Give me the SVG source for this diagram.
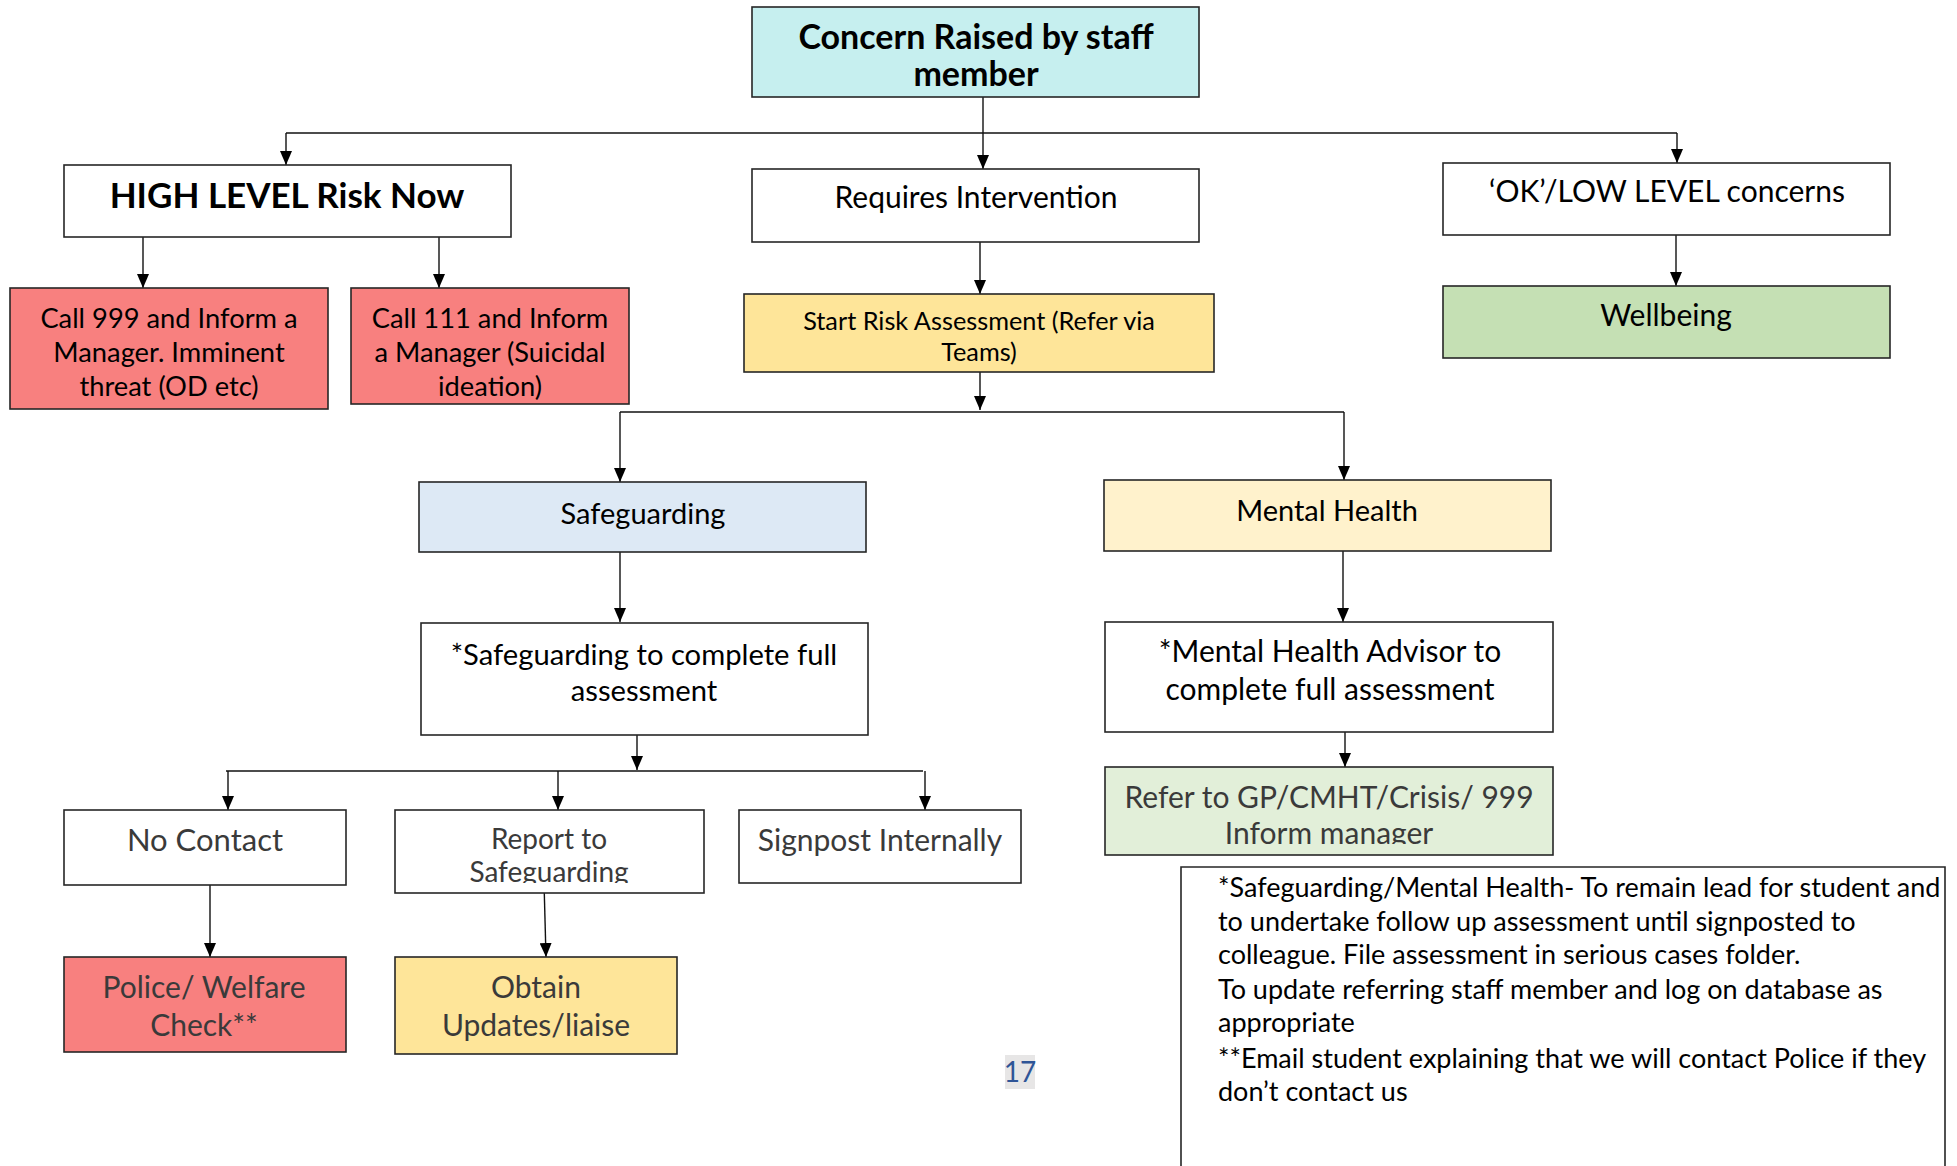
<svg xmlns="http://www.w3.org/2000/svg" width="1957" height="1166" viewBox="0 0 1957 1166">
<style>
.box{stroke:#262626;stroke-width:1.6}
.t{font-family:Lato,"Liberation Sans",sans-serif;font-size:30px;fill:#000;text-anchor:middle}
.b{font-weight:bold;font-size:34px}
.g{fill:#3a3a3a}
.s{font-size:25.3px}
.m{font-size:27.3px}
.note{font-family:Lato,"Liberation Sans",sans-serif;font-size:27px;fill:#000}
.c{fill:none;stroke:#111;stroke-width:1.4}
</style>
<defs>
<marker id="ah" markerUnits="userSpaceOnUse" markerWidth="14" markerHeight="12" refX="14" refY="6" orient="auto">
<path d="M0,0 L14,6 L0,12 z" fill="#000"/>
</marker>
<clipPath id="clipReport"><rect x="395" y="810" width="309" height="73"/></clipPath>
<clipPath id="clipRefer"><rect x="1105" y="767" width="448" height="77"/></clipPath>
</defs>
<rect width="1957" height="1166" fill="#fff"/>

<g id="connectors">
<path class="c" d="M983,97 V133"/>
<path class="c" d="M286,133 H1677"/>
<path class="c" d="M286,133 V165" marker-end="url(#ah)"/>
<path class="c" d="M983,133 V169" marker-end="url(#ah)"/>
<path class="c" d="M1677,133 V163" marker-end="url(#ah)"/>
<path class="c" d="M143,229 V288" marker-end="url(#ah)"/>
<path class="c" d="M439,231 V288" marker-end="url(#ah)"/>
<path class="c" d="M980,239 V294" marker-end="url(#ah)"/>
<path class="c" d="M1676,235 V286" marker-end="url(#ah)"/>
<path class="c" d="M980,372 V410" marker-end="url(#ah)"/>
<path class="c" d="M620,412 H1344"/>
<path class="c" d="M620,412 V482" marker-end="url(#ah)"/>
<path class="c" d="M1344,412 V480" marker-end="url(#ah)"/>
<path class="c" d="M620,552 V622" marker-end="url(#ah)"/>
<path class="c" d="M1343,551 V622" marker-end="url(#ah)"/>
<path class="c" d="M1345,732 V767" marker-end="url(#ah)"/>
<path class="c" d="M637,735 V770" marker-end="url(#ah)"/>
<path class="c" d="M226,771 H923"/>
<path class="c" d="M228,771 V810" marker-end="url(#ah)"/>
<path class="c" d="M558,771 V810" marker-end="url(#ah)"/>
<path class="c" d="M925,771 V810" marker-end="url(#ah)"/>
<path class="c" d="M210,885 V957" marker-end="url(#ah)"/>
<path class="c" d="M544,882 L546,957" marker-end="url(#ah)"/>
</g>

<g id="concern">
<rect class="box" x="752" y="7" width="447" height="90" fill="#c6efef"/>
<text class="t b" x="976" y="49">Concern Raised by staff</text>
<text class="t b" x="976" y="86">member</text>
</g>
<g id="high">
<rect class="box" x="64" y="165" width="447" height="72" fill="#fff"/>
<text class="t b" x="287" y="208" style="font-size:35px">HIGH LEVEL Risk Now</text>
</g>
<g id="requires">
<rect class="box" x="752" y="169" width="447" height="73" fill="#fff"/>
<text class="t" x="976" y="208">Requires Intervention</text>
</g>
<g id="oklow">
<rect class="box" x="1443" y="163" width="447" height="72" fill="#fff"/>
<text class="t" x="1667" y="202">‘OK’/LOW LEVEL concerns</text>
</g>
<g id="wellbeing">
<rect class="box" x="1443" y="286" width="447" height="72" fill="#c5e0b4"/>
<text class="t" x="1666" y="326">Wellbeing</text>
</g>
<g id="call999">
<rect class="box" x="10" y="288" width="318" height="121" fill="#f8807f"/>
<text class="t m" x="169" y="328">Call 999 and Inform a</text>
<text class="t m" x="169" y="362">Manager. Imminent</text>
<text class="t m" x="169" y="396">threat (OD etc)</text>
</g>
<g id="call111">
<rect class="box" x="351" y="288" width="278" height="116" fill="#f8807f"/>
<text class="t m" x="490" y="328">Call 111 and Inform</text>
<text class="t m" x="490" y="362">a Manager (Suicidal</text>
<text class="t m" x="490" y="396">ideation)</text>
</g>
<g id="startrisk">
<rect class="box" x="744" y="294" width="470" height="78" fill="#fee599"/>
<text class="t s" x="979" y="330">Start Risk Assessment (Refer via</text>
<text class="t s" x="979" y="361">Teams)</text>
</g>
<g id="safeguarding">
<rect class="box" x="419" y="482" width="447" height="70" fill="#dde9f5"/>
<text class="t" x="643" y="524" style="font-size:29px">Safeguarding</text>
</g>
<g id="mentalhealth">
<rect class="box" x="1104" y="480" width="447" height="71" fill="#fff2cc"/>
<text class="t" x="1327" y="521" style="font-size:29px">Mental Health</text>
</g>
<g id="safeAssess">
<rect class="box" x="421" y="623" width="447" height="112" fill="#fff"/>
<text class="t" x="644" y="665" style="font-size:29.2px">*Safeguarding to complete full</text>
<text class="t" x="644" y="701" style="font-size:29.2px">assessment</text>
</g>
<g id="mhAssess">
<rect class="box" x="1105" y="622" width="448" height="110" fill="#fff"/>
<text class="t" x="1330" y="662">*Mental Health Advisor to</text>
<text class="t" x="1330" y="700">complete full assessment</text>
</g>
<g id="refer">
<rect class="box" x="1105" y="767" width="448" height="88" fill="#e2efd9"/>
<g clip-path="url(#clipRefer)">
<text class="t g" x="1329" y="808">Refer to GP/CMHT/Crisis/ 999</text>
<text class="t g" x="1329" y="844">Inform manager</text>
</g>
</g>
<g id="nocontact">
<rect class="box" x="64" y="810" width="282" height="75" fill="#fff"/>
<text class="t g" x="205" y="851" style="font-size:31px">No Contact</text>
</g>
<g id="report">
<rect class="box" x="395" y="810" width="309" height="83" fill="#fff"/>
<g clip-path="url(#clipReport)">
<text class="t g" x="549" y="849" style="font-size:28px">Report to</text>
<text class="t g" x="549" y="882" style="font-size:28px">Safeguarding</text>
</g>
</g>
<g id="signpost">
<rect class="box" x="739" y="810" width="282" height="73" fill="#fff"/>
<text class="t g" x="880" y="851">Signpost Internally</text>
</g>
<g id="police">
<rect class="box" x="64" y="957" width="282" height="95" fill="#f8807f"/>
<text class="t g" x="204" y="998">Police/ Welfare</text>
<text class="t g" x="204" y="1036">Check**</text>
</g>
<g id="obtain">
<rect class="box" x="395" y="957" width="282" height="97" fill="#fee599"/>
<text class="t g" x="536" y="998">Obtain</text>
<text class="t g" x="536" y="1036">Updates/liaise</text>
</g>
<g id="note">
<path d="M1181,1166 V867 H1945 V1166" fill="#fff" stroke="#262626" stroke-width="1.6"/>
<text class="note" x="1218" y="897">*Safeguarding/Mental Health- To remain lead for student and</text>
<text class="note" x="1218" y="931">to undertake follow up assessment until signposted to</text>
<text class="note" x="1218" y="964">colleague. File assessment in serious cases folder.</text>
<text class="note" x="1218" y="999">To update referring staff member and log on database as</text>
<text class="note" x="1218" y="1032">appropriate</text>
<text class="note" x="1218" y="1068">**Email student explaining that we will contact Police if they</text>
<text class="note" x="1218" y="1101">don’t contact us</text>
</g>
<g id="pagenum">
<rect x="1005" y="1055" width="30" height="34" fill="#e7e6e6"/>
<text x="1020" y="1082" text-anchor="middle" font-family="Lato,'Liberation Sans',sans-serif" font-size="28" fill="#2f5597">17</text>
</g>
</svg>
